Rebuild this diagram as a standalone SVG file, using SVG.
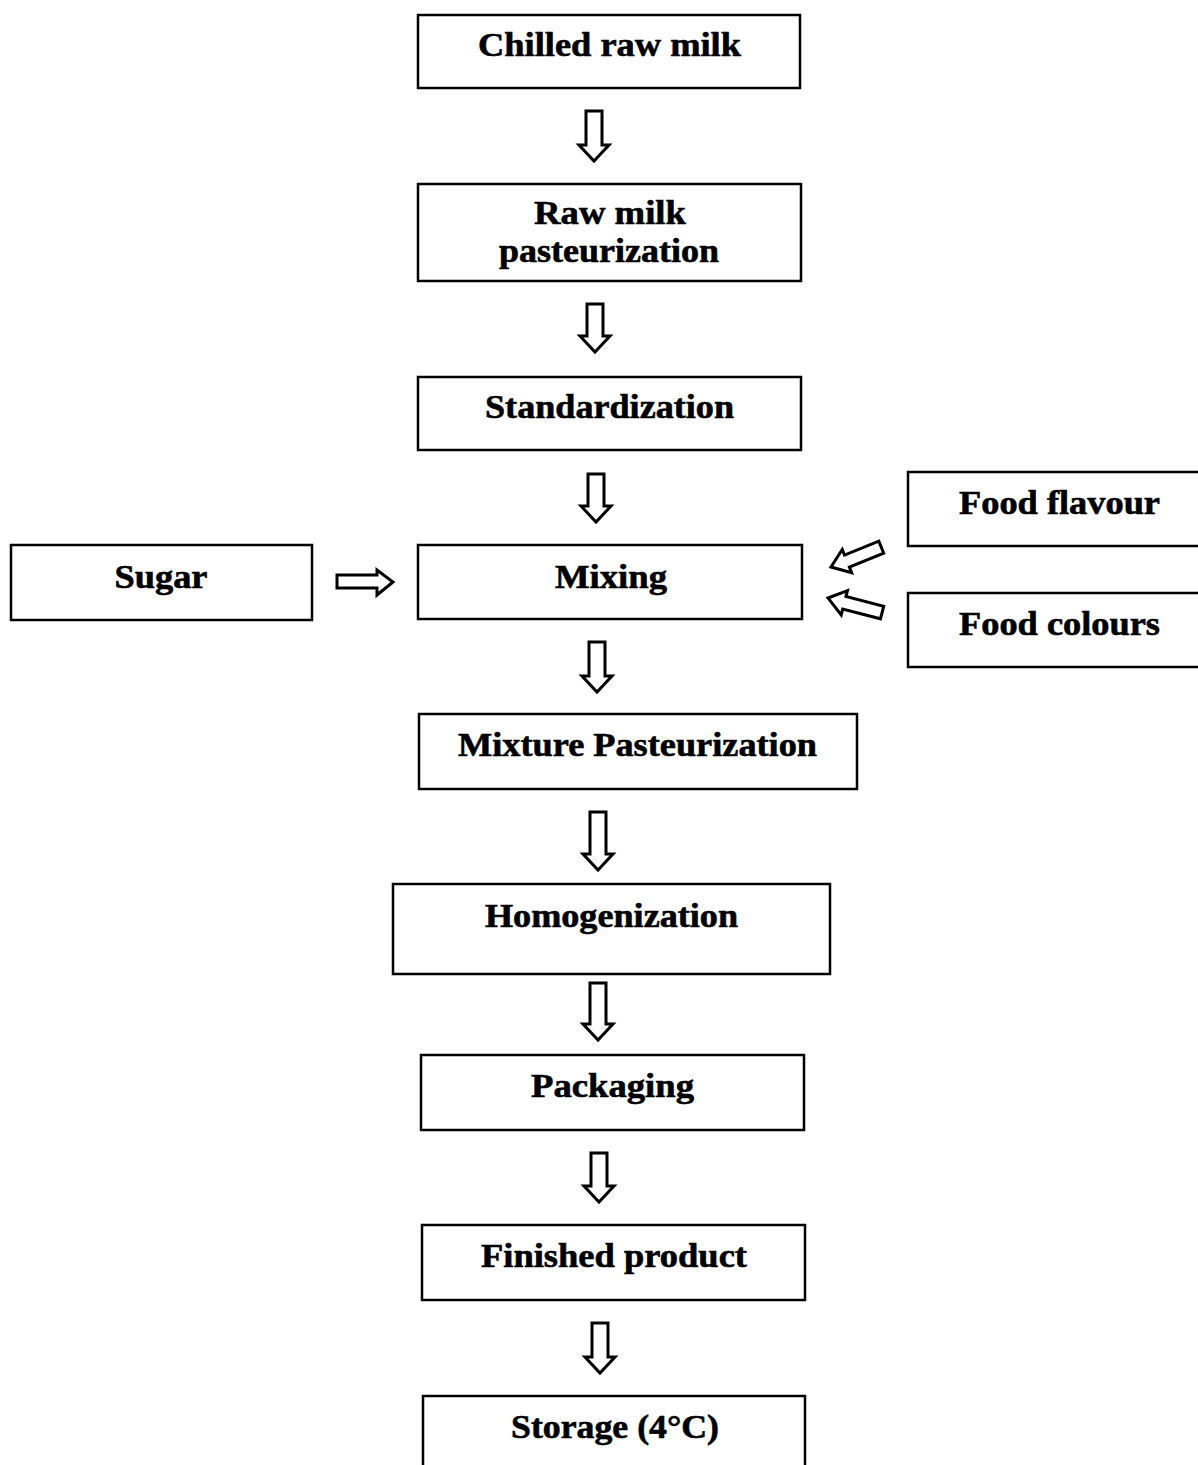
<svg xmlns="http://www.w3.org/2000/svg" width="1198" height="1465" viewBox="0 0 1198 1465">
<style>
.box{fill:#fff;stroke:#000;stroke-width:2.5}
.t{font-family:"Liberation Serif","Times New Roman",serif;font-weight:bold;font-size:33px;fill:#000;stroke:#000;stroke-width:0.6;text-anchor:middle}
.arr{fill:#fff;stroke:#000;stroke-width:3;stroke-linejoin:miter}
</style>
<rect width="1198" height="1465" fill="#fff"/>
<g id="n1"><rect class="box" x="418" y="15" width="382" height="73"/><text class="t" x="609.5" y="56" textLength="263" lengthAdjust="spacingAndGlyphs">Chilled raw milk</text></g>
<g id="n2"><rect class="box" x="418" y="184" width="383" height="97"/><text class="t" x="610" y="224" textLength="152" lengthAdjust="spacingAndGlyphs">Raw milk</text><text class="t" x="609" y="262" textLength="220" lengthAdjust="spacingAndGlyphs">pasteurization</text></g>
<g id="n3"><rect class="box" x="418" y="377" width="383" height="73"/><text class="t" x="609.5" y="418" textLength="249" lengthAdjust="spacingAndGlyphs">Standardization</text></g>
<g id="n4"><rect class="box" x="418" y="545" width="384" height="74"/><text class="t" x="611" y="588" textLength="112" lengthAdjust="spacingAndGlyphs">Mixing</text></g>
<g id="n5"><rect class="box" x="11" y="545" width="301" height="75"/><text class="t" x="161" y="588" textLength="93" lengthAdjust="spacingAndGlyphs">Sugar</text></g>
<g id="n6"><rect class="box" x="908" y="472" width="295" height="74"/><text class="t" x="1059.5" y="514" textLength="201" lengthAdjust="spacingAndGlyphs">Food flavour</text></g>
<g id="n7"><rect class="box" x="908" y="593" width="295" height="74"/><text class="t" x="1059.5" y="635" textLength="201" lengthAdjust="spacingAndGlyphs">Food colours</text></g>
<g id="n8"><rect class="box" x="419" y="714" width="438" height="75"/><text class="t" x="637.5" y="756" textLength="359" lengthAdjust="spacingAndGlyphs">Mixture Pasteurization</text></g>
<g id="n9"><rect class="box" x="393" y="884" width="437" height="90"/><text class="t" x="611.5" y="927" textLength="253" lengthAdjust="spacingAndGlyphs">Homogenization</text></g>
<g id="n10"><rect class="box" x="421" y="1055" width="383" height="75"/><text class="t" x="612.5" y="1097" textLength="163" lengthAdjust="spacingAndGlyphs">Packaging</text></g>
<g id="n11"><rect class="box" x="422" y="1225" width="383" height="75"/><text class="t" x="614" y="1267" textLength="266" lengthAdjust="spacingAndGlyphs">Finished product</text></g>
<g id="n12"><rect class="box" x="423" y="1396" width="382" height="80"/><text class="t" x="615" y="1438" textLength="208" lengthAdjust="spacingAndGlyphs">Storage (4°C)</text></g>
<g id="connectors">
<polygon class="arr" points="586,111 602,111 602,145 609,145 594,161 579,145 586,145"/>
<polygon class="arr" points="587,304 603,304 603,336 610,336 595,352 580,336 587,336"/>
<polygon class="arr" points="588,474 604,474 604,506 611,506 596,522 581,506 588,506"/>
<polygon class="arr" points="589,642 605,642 605,676 612,676 597,692 582,676 589,676"/>
<polygon class="arr" points="590,812 606,812 606,854 613,854 598,870 583,854 590,854"/>
<polygon class="arr" points="590,983 606,983 606,1024 613,1024 598,1040 583,1024 590,1024"/>
<polygon class="arr" points="591,1153 607,1153 607,1186 614,1186 599,1202 584,1186 591,1186"/>
<polygon class="arr" points="592,1323 608,1323 608,1357 615,1357 600,1373 585,1357 592,1357"/>
<polygon class="arr" points="337,575 377,575 377,570 393,582 377,595 377,588 337,588"/>
<polygon class="arr" transform="translate(831,567) rotate(-22)" points="0,0 17,-12 17,-6 54,-6 54,7 17,7 17,13"/>
<polygon class="arr" transform="translate(828,598) rotate(14.5)" points="0,0 17,-12 17,-6 56,-6 56,7 17,7 17,13"/>
</g>
</svg>
